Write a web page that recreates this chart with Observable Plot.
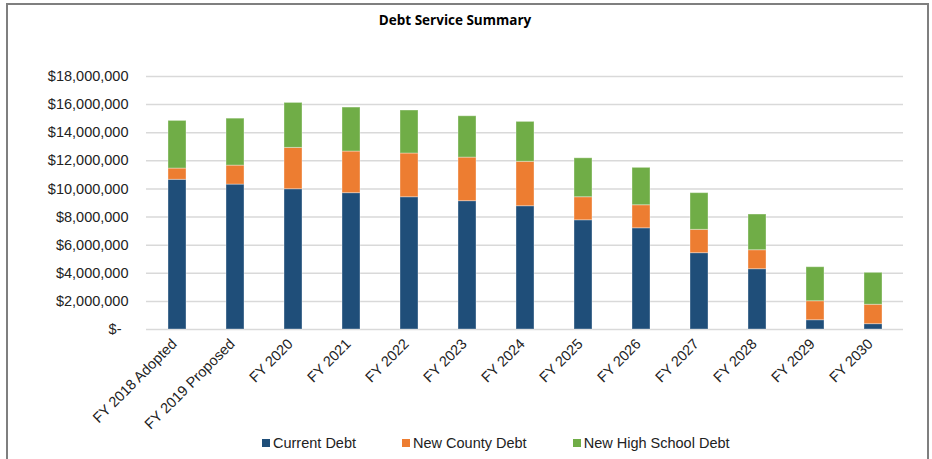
<!DOCTYPE html>
<html>
<head>
<meta charset="utf-8">
<script src="https://cdn.jsdelivr.net/npm/d3@7"></script>
<script src="https://cdn.jsdelivr.net/npm/@observablehq/plot@0.6"></script>
<style>
  html, body { margin: 0; padding: 0; background: #fff; }
  #wrap { position: relative; width: 932px; height: 459px; overflow: hidden; background: #fff; }
  #frame { position: absolute; left: 6px; top: 3px; width: 919px; height: 480px; border: 2px solid #7f7f7f; box-sizing: content-box; }
  #title { position: absolute; left: 0; width: 910px; top: 11px; text-align: center; font-family: "Open Sans", sans-serif; font-weight: 700; font-size: 13.5px; color: #000; }
  #chart { position: absolute; left: 0; top: 40px; }
  #chart svg { overflow: visible; }
  #legend { position: absolute; left: 262px; top: 434px; display: flex; gap: 46px; font-family: "Liberation Sans", Arial, sans-serif; font-size: 14.5px; color: #222; line-height: 18px; }
  .item { display: flex; align-items: center; }
  .sw { width: 8px; height: 8px; margin-right: 3px; }
</style>
</head>
<body>
<div id="wrap">
  <div id="frame"></div>
  <div id="title">Debt Service Summary</div>
  <div id="chart"></div>
  <div id="legend"></div>
</div>
<script>
const categories = ["FY 2018 Adopted", "FY 2019 Proposed", "FY 2020", "FY 2021", "FY 2022", "FY 2023", "FY 2024", "FY 2025", "FY 2026", "FY 2027", "FY 2028", "FY 2029", "FY 2030"];
const seriesNames = ["Current Debt", "New County Debt", "New High School Debt"];
const seriesColors = ["#1F4E79", "#ED7D31", "#70AD47"];
const currentDebt = [10650000, 10310000, 9980000, 9700000, 9410000, 9130000, 8770000, 7770000, 7200000, 5430000, 4290000, 660000, 380000];
const newCountyDebt = [800000, 1350000, 2940000, 2960000, 3110000, 3100000, 3160000, 1640000, 1640000, 1660000, 1350000, 1350000, 1380000];
const newHighSchoolDebt = [3390000, 3340000, 3200000, 3130000, 3060000, 2940000, 2840000, 2770000, 2660000, 2610000, 2540000, 2420000, 2270000];
const yTicks = [0, 2000000, 4000000, 6000000, 8000000, 10000000, 12000000, 14000000, 16000000, 18000000];

const seriesValues = [currentDebt, newCountyDebt, newHighSchoolDebt];
const data = [];
categories.forEach((c, i) => {
  seriesNames.forEach((s, j) => data.push({category: c, series: s, value: seriesValues[j][i]}));
});

const fmt = d3.format(",");
const chart = Plot.plot({
  width: 932,
  height: 419,
  marginLeft: 146,
  marginRight: 29,
  marginTop: 36,
  marginBottom: 130,
  style: {fontFamily: "'Liberation Sans', Arial, sans-serif", fontSize: "14.5px", color: "#222", background: "transparent", overflow: "visible"},
  x: {domain: categories, paddingInner: 0.69, paddingOuter: 0.345, label: null},
  y: {domain: [0, 18000000], label: null},
  color: {domain: seriesNames, range: seriesColors},
  marks: [
    Plot.gridY({ticks: yTicks, stroke: "#d9d9d9", strokeOpacity: 1, strokeWidth: 1.5}),
    Plot.barY(data, {x: "category", y: "value", fill: "series", stroke: "#ffffff", strokeOpacity: 0.35, strokeWidth: 1}),
    Plot.axisY({ticks: yTicks.filter(d => d > 0), tickSize: 0, tickPadding: 18, tickFormat: d => "$" + fmt(d), label: null, fill: "#222"}),
    Plot.axisY({ticks: [0], tickSize: 0, tickPadding: 25, tickFormat: () => "$-", label: null, fill: "#222"}),
    Plot.axisX({tickSize: 0, tickRotate: -45, tickPadding: 12, dx: -3, label: null, fill: "#222"})
  ]
});
document.getElementById("chart").appendChild(chart);

const legend = document.getElementById("legend");
seriesNames.forEach((s, j) => {
  const item = document.createElement("div");
  item.className = "item";
  const sw = document.createElement("span");
  sw.className = "sw";
  sw.style.background = seriesColors[j];
  const t = document.createElement("span");
  t.textContent = s;
  item.appendChild(sw);
  item.appendChild(t);
  legend.appendChild(item);
});
</script>
</body>
</html>
